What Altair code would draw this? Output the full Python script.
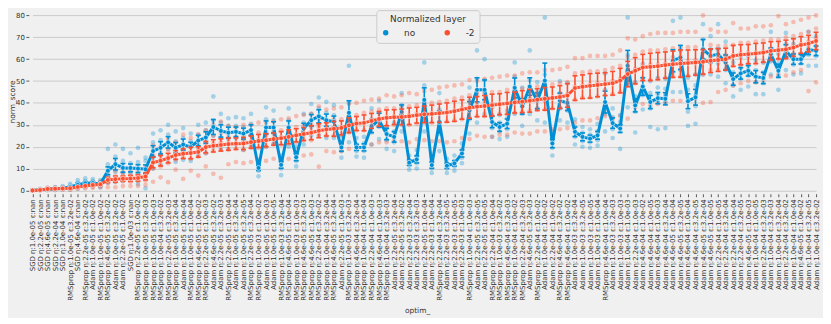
import altair as alt
import pandas as pd

labels = [
    "SGD η:1.0e-05 ε:nan", "SGD η:2.2e-05 ε:nan", "SGD η:4.6e-05 ε:nan", "SGD η:2.2e-04 ε:nan",
    "SGD η:1.0e-04 ε:nan", "RMSprop η:1.0e-05 ε:3.2e-02", "SGD η:4.6e-04 ε:nan",
    "RMSprop η:2.2e-05 ε:3.2e-02", "Adam η:1.0e-05 ε:1.0e-02", "RMSprop η:1.0e-05 ε:1.0e-02",
    "RMSprop η:4.6e-05 ε:3.2e-02", "Adam η:1.0e-05 ε:3.2e-02", "Adam η:2.2e-05 ε:1.0e-02",
    "SGD η:1.0e-03 ε:nan", "RMSprop η:2.2e-05 ε:1.0e-02", "RMSprop η:1.0e-05 ε:3.2e-03",
    "RMSprop η:1.0e-05 ε:1.0e-03", "RMSprop η:1.0e-04 ε:3.2e-02", "RMSprop η:2.2e-05 ε:3.2e-03",
    "RMSprop η:1.0e-05 ε:3.2e-04", "Adam η:1.0e-05 ε:1.0e-04", "RMSprop η:1.0e-05 ε:1.0e-04",
    "RMSprop η:4.6e-05 ε:1.0e-02", "RMSprop η:2.2e-05 ε:1.0e-03", "Adam η:4.6e-05 ε:3.2e-02",
    "Adam η:2.2e-05 ε:3.2e-03", "RMSprop η:2.2e-05 ε:1.0e-04", "Adam η:1.0e-05 ε:3.2e-04",
    "Adam η:1.0e-05 ε:3.2e-05", "RMSprop η:2.2e-05 ε:3.2e-04", "RMSprop η:1.0e-03 ε:1.0e-02",
    "Adam η:1.0e-05 ε:1.0e-03", "Adam η:1.0e-05 ε:1.0e-05", "RMSprop η:1.0e-03 ε:3.2e-04",
    "RMSprop η:4.6e-05 ε:1.0e-04", "RMSprop η:1.0e-03 ε:1.0e-03", "RMSprop η:4.6e-05 ε:3.2e-03",
    "RMSprop η:4.6e-05 ε:1.0e-03", "RMSprop η:2.2e-04 ε:3.2e-02", "RMSprop η:1.0e-04 ε:3.2e-04",
    "RMSprop η:4.6e-05 ε:3.2e-04", "Adam η:2.2e-05 ε:1.0e-03", "RMSprop η:1.0e-03 ε:3.2e-03",
    "RMSprop η:4.6e-04 ε:3.2e-04", "RMSprop η:1.0e-04 ε:1.0e-04", "RMSprop η:2.2e-04 ε:1.0e-03",
    "RMSprop η:4.6e-04 ε:1.0e-03", "RMSprop η:1.0e-04 ε:3.2e-03", "Adam η:2.2e-05 ε:3.2e-04",
    "Adam η:2.2e-05 ε:3.2e-02", "Adam η:2.2e-03 ε:3.2e-04", "Adam η:2.2e-03 ε:3.2e-03",
    "Adam η:2.2e-05 ε:1.0e-04", "Adam η:2.2e-03 ε:1.0e-04", "RMSprop η:2.2e-04 ε:3.2e-04",
    "Adam η:2.2e-03 ε:3.2e-05", "Adam η:2.2e-03 ε:1.0e-05", "Adam η:2.2e-03 ε:1.0e-03",
    "RMSprop η:1.0e-04 ε:1.0e-03", "Adam η:2.2e-05 ε:3.2e-05", "Adam η:2.2e-05 ε:1.0e-05",
    "RMSprop η:2.2e-04 ε:1.0e-04", "RMSprop η:1.0e-03 ε:3.2e-02", "RMSprop η:4.6e-04 ε:3.2e-03",
    "RMSprop η:1.0e-04 ε:1.0e-02", "RMSprop η:2.2e-04 ε:3.2e-03", "Adam η:4.6e-05 ε:3.2e-03",
    "RMSprop η:2.2e-04 ε:1.0e-02", "Adam η:1.0e-04 ε:1.0e-02", "Adam η:2.2e-04 ε:1.0e-02",
    "RMSprop η:4.6e-04 ε:3.2e-02", "RMSprop η:4.6e-04 ε:1.0e-02", "Adam η:1.0e-03 ε:3.2e-04",
    "Adam η:1.0e-03 ε:3.2e-05", "Adam η:1.0e-03 ε:1.0e-05", "Adam η:1.0e-03 ε:1.0e-04",
    "RMSprop η:4.6e-04 ε:1.0e-04", "Adam η:1.0e-03 ε:3.2e-03", "Adam η:1.0e-03 ε:1.0e-03",
    "Adam η:1.0e-04 ε:1.0e-03", "Adam η:2.2e-04 ε:1.0e-03", "Adam η:4.6e-04 ε:1.0e-02",
    "Adam η:4.6e-04 ε:1.0e-05", "Adam η:4.6e-04 ε:1.0e-03", "Adam η:4.6e-04 ε:3.2e-04",
    "Adam η:4.6e-05 ε:1.0e-04", "Adam η:4.6e-05 ε:3.2e-05", "Adam η:4.6e-04 ε:1.0e-04",
    "Adam η:4.6e-04 ε:3.2e-05", "Adam η:4.6e-05 ε:3.2e-04", "Adam η:4.6e-05 ε:1.0e-05",
    "Adam η:2.2e-04 ε:1.0e-05", "Adam η:2.2e-04 ε:3.2e-04", "Adam η:2.2e-04 ε:1.0e-04",
    "Adam η:2.2e-04 ε:3.2e-05", "Adam η:4.6e-05 ε:1.0e-03", "Adam η:1.0e-04 ε:1.0e-05",
    "Adam η:2.2e-04 ε:3.2e-03", "Adam η:1.0e-04 ε:3.2e-03", "Adam η:1.0e-04 ε:3.2e-04",
    "Adam η:2.2e-04 ε:3.2e-02", "Adam η:1.0e-04 ε:1.0e-04", "Adam η:4.6e-05 ε:1.0e-02",
    "Adam η:1.0e-04 ε:3.2e-05", "Adam η:1.0e-04 ε:3.2e-02",
]

# mean norm_score, layer "no"
no_mean = [
    0.0, 0.3, 0.6, 0.8, 1.0, 1.6, 2.6, 3.3, 3.4, 3.0,
    9.0, 12.0, 10.3, 10.3, 10.0, 9.7, 18.0, 19.5, 22.0, 19.5,
    21.0, 19.8, 22.8, 24.2, 29.0, 27.2, 26.4, 26.8, 26.0, 27.6,
    10.3, 28.8, 28.8, 11.7, 28.8, 15.2, 28.3, 32.1, 33.9, 32.1,
    31.4, 19.7, 35.5, 19.7, 19.7, 29.4, 32.1, 25.8, 24.5, 35.9,
    12.7, 14.2, 41.4, 11.6, 31.3, 11.3, 12.4, 16.9, 36.6, 46.0,
    46.0, 31.3, 29.0, 30.5, 46.9, 38.4, 47.5, 41.0, 50.2, 21.5,
    41.0, 40.0, 26.8, 24.5, 23.7, 25.2, 40.4, 30.8, 28.3, 57.0,
    38.9, 47.5, 40.4, 42.2, 41.9, 59.3, 60.8, 40.8, 42.6, 64.5,
    61.5, 62.3, 58.5, 50.9, 53.5, 54.7, 52.0, 51.4, 62.3, 54.7,
    63.8, 60.0, 60.0, 64.5, 63.8,
]
# 95% CI half-width, layer "no"
no_err = [
    0.1, 0.2, 0.2, 0.3, 0.3, 0.5, 0.8, 0.8, 0.7, 0.7,
    1.8, 2.6, 2.0, 1.8, 1.8, 2.0, 2.5, 2.8, 2.6, 2.4,
    2.5, 2.2, 2.4, 2.6, 3.4, 2.8, 2.5, 2.2, 2.5, 2.4,
    1.2, 3.0, 2.6, 1.5, 3.0, 1.6, 2.4, 2.6, 3.0, 2.8,
    2.6, 1.8, 5.5, 1.4, 1.6, 3.0, 3.2, 2.6, 2.4, 3.2,
    1.2, 1.6, 5.5, 1.4, 5.0, 1.2, 1.2, 1.6, 4.0, 5.5,
    4.5, 2.6, 2.0, 2.2, 4.5, 3.5, 4.0, 3.6, 8.0, 2.0,
    3.5, 3.5, 2.2, 1.8, 1.6, 1.8, 5.0, 2.4, 1.8, 7.0,
    3.0, 4.0, 3.0, 2.6, 2.8, 5.0, 5.5, 3.4, 3.6, 4.5,
    3.0, 2.6, 3.4, 2.8, 2.6, 2.4, 2.8, 2.6, 2.8, 3.0,
    2.8, 2.4, 2.2, 2.4, 2.2,
]
# mean norm_score, layer "-2"
m2_mean = [
    0.0, 0.2, 0.7, 0.8, 0.9, 1.0, 1.6, 2.1, 2.5, 2.8,
    4.8, 5.2, 5.4, 5.5, 5.7, 6.4, 12.8, 13.6, 14.8, 16.2,
    16.8, 17.1, 17.6, 19.8, 20.4, 20.8, 21.2, 21.4, 21.5, 22.1,
    22.6, 23.0, 23.5, 23.9, 24.5, 25.2, 25.8, 26.4, 27.3, 27.9,
    28.2, 28.6, 29.8, 30.6, 30.9, 31.8, 32.7, 33.2, 33.5, 33.6,
    33.9, 34.4, 34.8, 35.0, 35.3, 35.6, 36.2, 37.0, 37.8, 38.3,
    38.6, 39.0, 39.4, 39.8, 40.2, 40.6, 41.0, 41.5, 41.9, 42.3,
    42.7, 43.4, 46.8, 47.4, 47.8, 48.2, 48.6, 49.0, 50.2, 53.2,
    54.7, 56.2, 56.5, 56.8, 57.3, 57.7, 58.0, 58.2, 58.5, 58.8,
    59.3, 59.6, 60.0, 61.5, 62.0, 62.3, 62.6, 63.0, 63.8, 64.1,
    64.5, 65.3, 66.5, 67.1, 68.3,
]
# 95% CI half-width, layer "-2"
m2_err = [
    0.1, 0.1, 0.2, 0.2, 0.2, 0.3, 0.3, 0.4, 0.5, 0.5,
    1.2, 1.4, 1.2, 1.4, 1.4, 1.6, 2.4, 2.4, 2.2, 2.0,
    2.2, 2.6, 2.4, 2.6, 2.8, 2.8, 2.8, 2.6, 2.8, 2.8,
    3.0, 3.0, 2.8, 3.0, 3.2, 3.0, 3.0, 3.2, 3.2, 3.0,
    3.4, 3.2, 3.4, 3.2, 3.6, 3.4, 3.4, 3.6, 3.4, 3.6,
    3.8, 3.6, 3.8, 4.0, 4.2, 4.4, 4.6, 4.4, 4.8, 4.6,
    4.8, 5.0, 4.8, 5.0, 4.8, 5.0, 5.2, 5.0, 5.2, 5.0,
    5.2, 5.4, 5.6, 5.4, 5.6, 5.4, 5.2, 5.4, 5.6, 5.8,
    6.0, 6.0, 6.2, 6.2, 6.0, 6.0, 6.2, 6.0, 5.8, 5.6,
    5.4, 5.2, 5.0, 4.8, 4.6, 4.4, 4.6, 4.4, 4.2, 4.0,
    4.2, 4.0, 3.8, 3.8, 4.0,
]

# individual runs (scatter), layer "no"
no_pts = [
    [0, 0, 0.1, 0.2, 0.3], [0, 0.2, 0.3, 0.5, 0.8], [0.2, 0.4, 0.6, 0.8, 1.2], [0.2, 0.5, 0.8, 1.2, 1.6],
    [0.3, 0.7, 1.0, 1.4, 2.0], [0.5, 1.0, 1.6, 2.2, 3.0], [0.8, 1.8, 2.6, 3.5, 4.8], [1.5, 2.5, 3.2, 4.2, 5.5],
    [1.8, 2.7, 3.4, 4.2, 5.2], [1.4, 2.3, 3.0, 3.8, 4.8],
    [3.5, 6.5, 9.0, 12.0, 19.0], [4.0, 8.5, 12.0, 15.5, 21.0], [4.5, 8.0, 10.5, 13.5, 19.0],
    [5.0, 8.0, 10.0, 12.5, 17.0], [3.0, 7.5, 10.5, 13.0, 19.5], [1.0, 6.0, 10.0, 13.5, 15.0],
    [10.0, 15.0, 18.5, 22.0, 26.0], [12.0, 16.0, 19.5, 23.0, 27.5], [14.0, 19.0, 22.0, 25.5, 30.0],
    [13.0, 16.5, 19.5, 22.5, 27.0],
    [14.0, 18.0, 21.0, 24.0, 28.5], [13.5, 17.0, 20.0, 22.5, 26.0], [16.0, 20.0, 23.0, 25.5, 30.0],
    [17.0, 21.0, 24.0, 27.5, 31.0], [20.0, 25.0, 28.5, 32.0, 43.0], [19.0, 24.0, 27.5, 31.0, 35.0],
    [19.0, 23.5, 26.5, 29.5, 33.0], [21.0, 24.0, 27.0, 29.5, 33.5], [18.5, 23.0, 26.0, 29.0, 33.0],
    [20.5, 25.0, 27.5, 30.5, 35.0],
    [6.5, 9.0, 10.5, 12.0, 14.0], [20.0, 25.5, 29.0, 32.5, 38.0], [21.5, 26.0, 29.0, 32.0, 36.5],
    [7.0, 10.0, 12.0, 13.5, 16.0], [20.0, 26.0, 29.0, 32.0, 37.5], [11.0, 13.5, 15.0, 17.0, 20.0],
    [21.0, 25.5, 28.5, 31.0, 35.0], [25.0, 29.0, 32.0, 35.0, 39.5], [25.0, 30.5, 34.0, 37.5, 42.5],
    [24.0, 29.0, 32.0, 35.5, 40.5],
    [24.0, 28.5, 31.5, 34.5, 39.0], [15.0, 18.0, 19.5, 21.5, 25.0], [22.0, 27.0, 31.0, 40.0, 57.0],
    [15.5, 18.0, 19.5, 21.0, 24.0], [15.0, 18.0, 20.0, 21.5, 24.5], [21.0, 26.5, 29.5, 32.5, 37.5],
    [23.5, 29.0, 32.0, 35.5, 41.0], [19.0, 23.0, 26.0, 28.5, 33.0], [18.0, 22.0, 24.5, 27.0, 31.0],
    [27.0, 33.0, 36.0, 39.0, 44.5],
    [9.5, 11.5, 12.5, 14.0, 16.0], [10.0, 12.5, 14.0, 16.0, 18.5], [27.0, 35.0, 41.0, 48.0, 58.5],
    [8.0, 10.0, 11.5, 13.0, 15.5], [18.0, 26.0, 31.0, 37.0, 44.5], [8.0, 10.0, 11.5, 12.5, 14.5],
    [9.0, 11.0, 12.5, 13.5, 16.0], [12.5, 15.0, 17.0, 18.5, 21.5], [26.0, 32.5, 36.5, 41.0, 47.0],
    [31.0, 39.0, 45.0, 51.0, 64.0],
    [35.0, 41.0, 45.5, 50.5, 60.0], [24.5, 28.5, 31.5, 34.0, 38.0], [23.5, 27.0, 29.0, 31.0, 34.5],
    [24.5, 28.0, 30.5, 33.0, 36.5], [35.0, 42.0, 47.0, 52.0, 58.5], [29.5, 35.0, 38.5, 42.0, 47.0],
    [35.0, 42.0, 46.5, 50.5, 64.0], [32.0, 37.5, 41.0, 45.0, 49.5], [31.0, 41.0, 47.0, 53.0, 79.0],
    [16.0, 19.5, 21.5, 23.5, 27.0],
    [32.0, 37.5, 41.0, 44.5, 50.0], [31.0, 36.5, 40.0, 43.5, 49.0], [21.0, 24.5, 27.0, 29.0, 32.5],
    [20.0, 22.5, 24.5, 26.5, 29.0], [19.5, 22.0, 23.5, 25.5, 28.0], [20.5, 23.0, 25.0, 27.0, 30.5],
    [27.0, 35.0, 40.5, 46.0, 53.5], [24.0, 28.0, 31.0, 33.5, 37.5], [19.0, 27.0, 29.5, 31.5, 34.5],
    [38.0, 49.0, 57.0, 62.0, 79.0],
    [26.5, 36.0, 39.5, 43.0, 49.5], [37.0, 43.5, 47.5, 51.5, 58.0], [29.0, 37.5, 41.0, 44.5, 50.0],
    [28.0, 40.5, 44.0, 47.0, 51.5], [28.5, 40.0, 43.5, 46.5, 51.0], [45.0, 54.0, 59.0, 61.0, 77.5],
    [45.0, 55.0, 61.0, 64.0, 79.0], [29.5, 36.0, 41.0, 46.0, 51.5], [30.5, 38.5, 43.0, 48.0, 53.0],
    [53.0, 60.0, 64.5, 69.0, 76.0],
    [53.0, 58.5, 61.5, 64.5, 70.5], [52.0, 58.0, 61.5, 64.0, 76.0], [49.0, 55.0, 58.5, 62.0, 68.0],
    [43.0, 48.0, 51.0, 54.0, 58.5], [46.0, 51.0, 53.5, 56.0, 61.0], [47.5, 52.5, 55.0, 57.0, 61.5],
    [44.0, 49.5, 52.0, 55.0, 59.5], [44.0, 49.0, 51.5, 54.0, 58.5], [53.0, 59.0, 62.0, 65.0, 72.5],
    [46.0, 52.0, 55.0, 58.0, 62.5],
    [55.0, 61.0, 64.0, 67.0, 72.0], [53.0, 57.5, 60.0, 62.5, 67.0], [53.5, 58.0, 60.0, 62.0, 66.5],
    [57.0, 62.0, 64.5, 66.5, 72.5], [57.0, 61.5, 64.0, 66.0, 70.5],
]
# individual runs (scatter), layer "-2"
m2_pts = [
    [0, 0, 0, 0.1, 0.2], [0, 0.1, 0.2, 0.3, 0.4], [0.2, 0.5, 0.7, 0.9, 1.2], [0.3, 0.6, 0.8, 1.0, 1.3],
    [0.4, 0.7, 0.9, 1.1, 1.4], [0.3, 0.7, 1.0, 1.3, 1.7], [0.8, 1.3, 1.6, 1.9, 2.4], [1.0, 1.7, 2.1, 2.5, 3.2],
    [1.2, 2.0, 2.5, 3.0, 3.8], [1.5, 2.3, 2.8, 3.3, 4.1],
    [1.5, 3.5, 5.0, 6.0, 8.0], [1.5, 3.8, 5.2, 6.5, 9.0], [2.0, 4.2, 5.5, 6.8, 8.5], [2.0, 4.0, 5.5, 7.0, 9.0],
    [2.0, 4.2, 5.8, 7.2, 9.3], [2.5, 4.5, 6.5, 8.0, 10.5], [4.0, 10.0, 13.0, 16.5, 20.5],
    [6.0, 11.0, 14.0, 17.0, 20.0], [3.8, 12.5, 15.5, 18.5, 23.5], [9.5, 14.0, 16.5, 19.0, 22.0],
    [5.3, 15.0, 17.5, 20.5, 25.5], [9.0, 14.5, 17.5, 20.5, 24.0], [6.8, 15.5, 18.5, 21.5, 25.5],
    [11.0, 17.0, 20.0, 23.5, 27.5], [7.6, 18.0, 21.5, 25.0, 30.0], [5.8, 18.5, 22.0, 26.0, 31.5],
    [12.0, 18.5, 21.5, 24.5, 29.5], [13.0, 19.0, 21.5, 24.5, 29.0], [12.5, 18.5, 21.5, 25.0, 30.0],
    [13.0, 19.5, 22.5, 25.5, 30.0],
    [13.0, 19.5, 23.0, 26.5, 31.0], [13.5, 20.0, 23.5, 27.0, 31.0], [14.5, 21.0, 23.5, 27.0, 31.5],
    [14.0, 21.0, 24.5, 27.5, 32.5], [14.5, 21.5, 25.0, 28.5, 33.0], [15.5, 22.0, 25.5, 29.0, 34.0],
    [16.0, 23.0, 26.0, 29.5, 34.5], [16.5, 23.0, 27.0, 30.5, 35.0], [10.9, 25.5, 29.0, 32.5, 38.5],
    [18.0, 25.0, 28.0, 31.5, 37.0],
    [17.5, 25.0, 28.5, 32.5, 37.5], [18.0, 25.5, 29.0, 32.5, 38.0], [19.0, 26.5, 30.0, 34.0, 39.5],
    [20.0, 27.5, 31.0, 34.5, 40.0], [19.5, 27.5, 31.0, 35.5, 41.0], [21.0, 28.5, 32.0, 36.0, 41.5],
    [22.0, 29.5, 33.0, 37.0, 42.0], [22.0, 29.5, 33.5, 37.5, 43.5], [23.0, 30.0, 34.0, 37.5, 43.0],
    [22.5, 30.0, 34.0, 38.0, 43.5],
    [22.0, 30.0, 34.5, 38.5, 44.5], [23.5, 30.5, 35.0, 39.0, 44.0], [23.0, 31.0, 35.0, 39.5, 45.5],
    [22.5, 31.0, 35.5, 40.0, 46.0], [22.5, 31.0, 35.5, 40.5, 47.0], [22.0, 31.5, 36.0, 41.0, 47.5],
    [22.5, 32.0, 36.5, 42.0, 48.0], [24.0, 32.5, 37.5, 42.5, 48.5], [23.5, 33.5, 38.0, 43.5, 50.5],
    [25.0, 34.0, 38.5, 44.0, 50.0],
    [24.5, 34.0, 39.0, 44.5, 51.0], [24.5, 34.5, 39.5, 45.0, 51.5], [25.5, 35.0, 39.5, 45.0, 52.0],
    [25.5, 35.0, 40.0, 46.0, 52.5], [26.5, 35.5, 40.5, 46.0, 52.5], [26.0, 36.0, 41.0, 46.5, 53.5],
    [26.0, 36.5, 41.5, 47.0, 54.0], [27.0, 37.0, 42.0, 47.5, 54.0], [27.0, 37.0, 42.5, 48.0, 55.0],
    [28.0, 37.5, 42.5, 48.5, 55.0],
    [28.0, 38.0, 43.0, 49.0, 55.5], [28.5, 38.5, 44.0, 49.5, 56.5], [31.0, 41.5, 47.5, 53.5, 60.5],
    [32.0, 42.5, 48.0, 54.0, 60.5], [32.0, 42.5, 48.5, 54.5, 61.5], [33.0, 43.0, 49.0, 54.5, 61.5],
    [34.0, 43.5, 49.0, 55.0, 61.5], [32.8, 44.0, 50.0, 56.0, 62.0], [34.0, 45.0, 51.0, 57.0, 64.0],
    [32.8, 48.0, 54.5, 61.0, 69.5],
    [38.0, 49.0, 55.5, 62.0, 69.0], [39.5, 50.5, 57.0, 63.5, 70.5], [39.0, 50.5, 57.5, 64.0, 71.5],
    [39.5, 51.0, 57.5, 64.0, 72.0], [40.5, 51.5, 58.0, 64.5, 72.0], [41.0, 52.0, 58.5, 65.0, 72.0],
    [41.0, 52.0, 59.0, 65.5, 72.5], [41.5, 52.5, 59.0, 65.5, 72.5], [42.0, 53.0, 59.5, 65.5, 72.5],
    [40.0, 53.0, 59.0, 63.0, 80.0],
    [40.4, 55.0, 61.0, 66.5, 73.5], [45.0, 55.0, 60.5, 66.0, 72.5], [46.0, 55.5, 61.0, 66.0, 72.5],
    [48.0, 57.0, 62.0, 66.5, 76.5], [49.0, 57.5, 62.5, 67.5, 74.0], [50.0, 58.0, 63.0, 67.5, 74.0],
    [49.5, 58.0, 63.0, 68.0, 75.0], [50.5, 58.5, 63.5, 68.5, 75.0], [52.0, 59.5, 64.5, 69.0, 75.5],
    [53.0, 60.0, 64.5, 69.0, 79.7],
    [52.5, 60.5, 65.0, 70.0, 76.0], [54.0, 61.0, 66.0, 70.5, 77.0], [55.0, 62.5, 67.0, 71.5, 78.0],
    [45.4, 63.5, 68.0, 72.5, 79.0], [49.4, 64.5, 69.5, 74.0, 80.0],
]

N = len(labels)
assert len(set(labels)) == N == 105
for arr in (no_mean, no_err, m2_mean, m2_err, no_pts, m2_pts):
    assert len(arr) == N, len(arr)

BLUE = "#008fd5"
RED = "#fc4f30"
BG = "#f0f0f0"
TXT = "#333333"
FONT = "DejaVu Sans"

series = [("no", BLUE, no_mean, no_err, no_pts), ("-2", RED, m2_mean, m2_err, m2_pts)]

x_scale = alt.Scale(type="point", padding=0, range=[3.7, 793])
y_scale = alt.Scale(domain=[-1.5, 82.86], nice=False, zero=False)
color_scale = alt.Scale(domain=["no", "-2"], range=[BLUE, RED])

x_axis = alt.Axis(
    labelAngle=270, labelFontSize=7, labelOverlap=False, labelPadding=2, labelLimit=220,
    tickSize=3, tickColor=TXT, tickWidth=0.8, domain=False, grid=False,
    title="optim_", titleFontSize=7.5, titleFontWeight="normal",
    titleX=391, titleY=120, titleAlign="center", titleBaseline="alphabetic",
)
y_axis = alt.Axis(
    values=[0, 10, 20, 30, 40, 50, 60, 70, 80], labelFontSize=7, labelPadding=1.5,
    tickSize=3, tickColor=TXT, tickWidth=0.8, domain=False, grid=True,
    gridColor="#cbcbcb", gridWidth=1,
    title="norm_score", titleFontSize=7.5, titleFontWeight="normal",
    titleX=-16.5, titleY=93, titleAngle=270, titleAlign="center", titleBaseline="middle",
)

legend = alt.Legend(
    title="Normalized layer", orient="none", legendX=350, legendY=1,
    direction="horizontal", titleAnchor="middle", titleFontSize=9,
    titleFontWeight="normal", titleColor=TXT, titlePadding=4,
    labelFontSize=9, labelColor=TXT, symbolType="circle", symbolSize=30,
    symbolStrokeWidth=0, symbolOpacity=1, labelOffset=14, columnPadding=27,
    padding=5, fillColor=BG, strokeColor="#cccccc", cornerRadius=3,
)

X = alt.X("optim_:N", sort=labels, scale=x_scale, axis=x_axis)


def Y(field):
    return alt.Y(field, scale=y_scale, axis=y_axis, title="norm_score")


layers_pts = []
layers_stats = []
for name, colr, means, errs, pts in series:
    pts_df = pd.DataFrame(
        [{"optim_": lab, "layer": name, "norm_score": v} for lab, vals in zip(labels, pts) for v in vals]
    )
    sm = pd.DataFrame({
        "optim_": labels,
        "layer": name,
        "norm_score": means,
        "lo": [m - e for m, e in zip(means, errs)],
        "hi": [m + e for m, e in zip(means, errs)],
    })
    layers_pts.append(
        alt.Chart(pts_df).mark_circle(size=22, opacity=0.33, color=colr).encode(x=X, y=Y("norm_score:Q"))
    )
    rule = alt.Chart(sm).mark_rule(strokeWidth=1.6, color=colr).encode(x=X, y=Y("lo:Q"), y2="hi:Q")
    cap_lo = alt.Chart(sm).mark_tick(size=5, thickness=1.6, opacity=1, color=colr).encode(x=X, y=Y("lo:Q"))
    cap_hi = alt.Chart(sm).mark_tick(size=5, thickness=1.6, opacity=1, color=colr).encode(x=X, y=Y("hi:Q"))
    line = alt.Chart(sm).mark_line(strokeWidth=3, color=colr).encode(x=X, y=Y("norm_score:Q"))
    marks = alt.Chart(sm).mark_circle(size=24, opacity=1, stroke="white", strokeWidth=0.6).encode(
        x=X, y=Y("norm_score:Q"),
        color=alt.Color("layer:N", scale=color_scale, legend=legend),
    )
    layers_stats += [rule, cap_lo, cap_hi, line, marks]

chart = alt.layer(*layers_pts, *layers_stats).properties(
    width=794,
    height=186,
    padding={"left": 21, "top": 0, "right": 6, "bottom": 124},
    autosize=alt.AutoSizeParams(type="none"),
    background=BG,
).configure_view(strokeWidth=0).configure_axis(
    labelFont=FONT, titleFont=FONT, labelColor=TXT, titleColor=TXT
).configure_legend(labelFont=FONT, titleFont=FONT)

chart.save("out.html", embed_options={"renderer": "svg", "actions": False})
